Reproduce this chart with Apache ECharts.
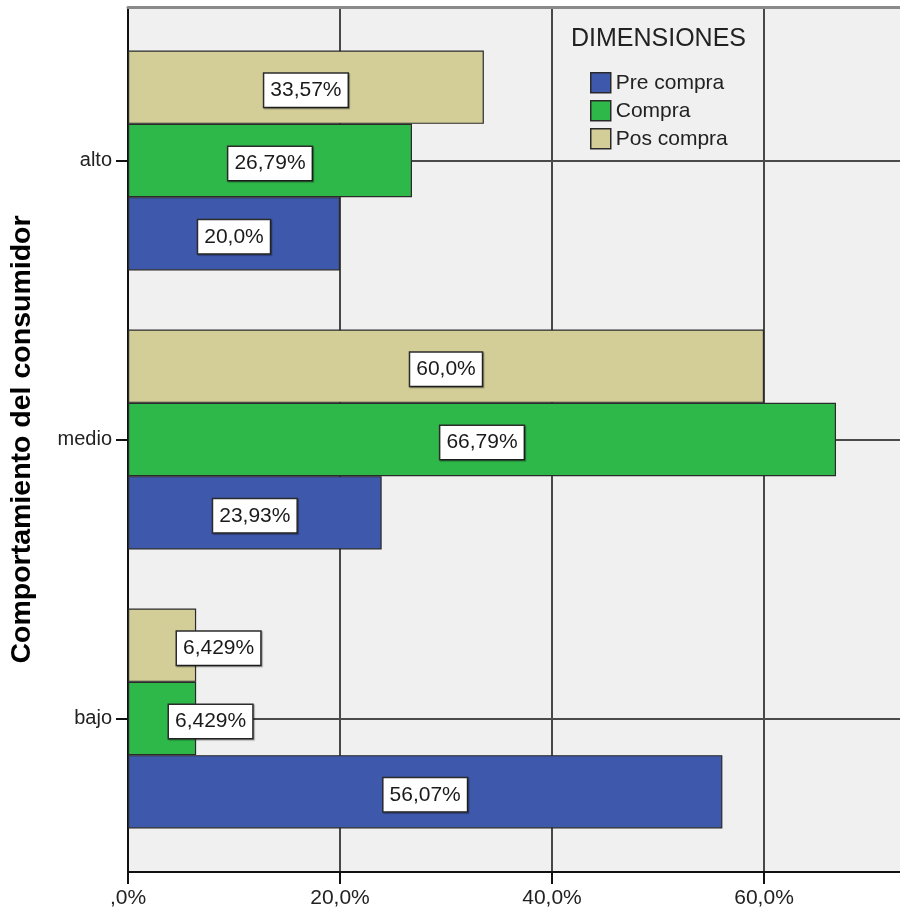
<!DOCTYPE html>
<html>
<head>
<meta charset="utf-8">
<script src="https://cdn.jsdelivr.net/npm/echarts@6/dist/echarts.min.js"></script>
<style>
  html, body { margin: 0; padding: 0; background: #ffffff; }
  #chart { width: 900px; height: 911px; }
</style>
</head>
<body>
<div id="chart"></div>
<script>
// Consumer behaviour level by purchase stage (percent of each stage)
const categories = ['bajo', 'medio', 'alto'];
const stageNames = ['Pre compra', 'Compra', 'Pos compra'];
const preCompra = [56.07, 23.93, 20.0];
const compra = [6.429, 66.79, 26.79];
const posCompra = [6.429, 60.0, 33.57];
const xTickValues = [0, 20, 40, 60];
const xTickLabels = [',0%', '20,0%', '40,0%', '60,0%'];
const legendTitle = 'DIMENSIONES';
const yTitle = 'Comportamiento del consumidor';

const stageValues = [preCompra, compra, posCompra];
const stageColors = ['#3e58ac', '#2eb84a', '#d3ce98'];
const FONT = '"Liberation Sans", Arial, sans-serif';
const X_MAX = 73.11;
const PLOT_WIDTH = 775;

// 4 significant digits, comma decimal separator, at least one decimal place
function fmtPct(v) {
  let s = Number(v).toPrecision(4);
  if (s.indexOf('.') >= 0) {
    s = s.replace(/0+$/, '');
    if (s.endsWith('.')) s += '0';
  }
  return s.replace('.', ',') + '%';
}

// Labels of the two narrow "bajo" bars sit to the right of the bar centre
const narrowLabelShift = { 'Compra': 41, 'Pos compra': 49 };

const labelBox = {
  show: true,
  position: 'inside',
  offset: [0, 3],
  fontFamily: FONT,
  fontSize: 21,
  lineHeight: 21,
  color: '#1a1a1a',
  backgroundColor: '#ffffff',
  borderColor: '#2b2b2b',
  borderWidth: 1.5,
  padding: [6, 6, 6, 6],
  shadowColor: 'rgba(0,0,0,0.35)',
  shadowBlur: 1,
  shadowOffsetX: 1,
  shadowOffsetY: 1,
  formatter: p => fmtPct(p.value)
};

// Series are stacked top-down inside a band, so the last stage goes first
const order = [2, 1, 0];
const barSeries = order.map((si) => {
  const name = stageNames[si];
  const data = stageValues[si].map((v, ci) => {
    const item = { value: v };
    if (categories[ci] === 'bajo' && narrowLabelShift[name] !== undefined) {
      item.label = { position: [narrowLabelShift[name], '50%'], align: 'left', verticalAlign: 'middle' };
    }
    return item;
  });
  const s = {
    name: name,
    type: 'bar',
    xAxisIndex: 2,
    yAxisIndex: 1,
    barWidth: 73.3,
    barGap: '0%',
    itemStyle: { color: stageColors[si], borderColor: '#2a2a2a', borderWidth: 1.2 },
    label: labelBox,
    emphasis: { disabled: true },
    data: data
  };
  if (name === 'Compra') {
    // reference lines through the category centres (middle bar), behind the bars
    s.markLine = {
      silent: true,
      z: 1,
      symbol: ['none', 'none'],
      label: { show: false },
      lineStyle: { color: '#4a4a4a', width: 2, type: 'solid' },
      data: categories.map(c => ({ yAxis: c }))
    };
  }
  return s;
});

const chart = echarts.init(document.getElementById('chart'), null, { renderer: 'canvas' });

chart.setOption({
  animation: false,
  backgroundColor: '#ffffff',
  title: {
    text: legendTitle,
    left: 571,
    top: 27,
    padding: 0,
    textStyle: { fontFamily: FONT, fontSize: 25, fontWeight: 'normal', color: '#222222' }
  },
  legend: {
    data: stageNames,
    orient: 'vertical',
    left: 590,
    top: 72,
    padding: 0,
    itemWidth: 20,
    itemHeight: 20,
    itemGap: 6.5,
    icon: 'rect',
    selectedMode: false,
    itemStyle: { borderColor: '#2a2a2a', borderWidth: 1.5 },
    textStyle: { fontFamily: FONT, fontSize: 21, lineHeight: 20, color: '#222222' }
  },
  grid: [
    // full plot frame: background, value axis, vertical grid lines
    { left: 128, width: PLOT_WIDTH, top: 7.5, bottom: 39, show: true, backgroundColor: '#f0f0f0',
      borderWidth: 0, outerBoundsMode: 'none', containLabel: false },
    // inset band holding the category axis and bars
    { left: 128, width: PLOT_WIDTH, top: 21, bottom: 53, show: false,
      outerBoundsMode: 'none', containLabel: false }
  ],
  xAxis: [
    {
      type: 'value', gridIndex: 0, position: 'bottom',
      min: 0, max: X_MAX, interval: 20,
      axisLine: { show: true, lineStyle: { color: '#111111', width: 2 } },
      axisTick: { show: true, length: 12, lineStyle: { color: '#111111', width: 2 } },
      axisLabel: {
        margin: 16, fontFamily: FONT, fontSize: 21, color: '#222222',
        formatter: v => { const i = xTickValues.indexOf(v); return i >= 0 ? xTickLabels[i] : ''; }
      },
      splitLine: { show: true, lineStyle: { color: '#111111', width: 1.5 } }
    },
    {
      type: 'value', gridIndex: 0, position: 'top',
      min: 0, max: X_MAX, interval: 20,
      axisLine: { show: true, lineStyle: { color: '#8a8a8a', width: 3 } },
      axisTick: { show: false }, axisLabel: { show: false }, splitLine: { show: false }
    },
    {
      type: 'value', gridIndex: 1, min: 0, max: X_MAX, interval: 20, show: false
    }
  ],
  yAxis: [
    {
      type: 'value', gridIndex: 0, min: 0, max: 1,
      axisLine: { show: true, lineStyle: { color: '#111111', width: 2 } },
      axisTick: { show: false }, axisLabel: { show: false }, splitLine: { show: false }
    },
    {
      type: 'category', gridIndex: 1, data: categories,
      name: yTitle,
      nameLocation: 'middle',
      nameRotate: 90,
      nameGap: 91,
      nameTextStyle: { fontFamily: FONT, fontSize: 28.5, fontWeight: 'bold', color: '#000000' },
      axisLine: { show: false },
      axisTick: { show: true, alignWithLabel: true, length: 12, lineStyle: { color: '#111111', width: 2 } },
      axisLabel: { margin: 16, fontFamily: FONT, fontSize: 20, color: '#222222' },
      splitLine: { show: false }
    }
  ],
  series: barSeries
});
</script>
</body>
</html>
